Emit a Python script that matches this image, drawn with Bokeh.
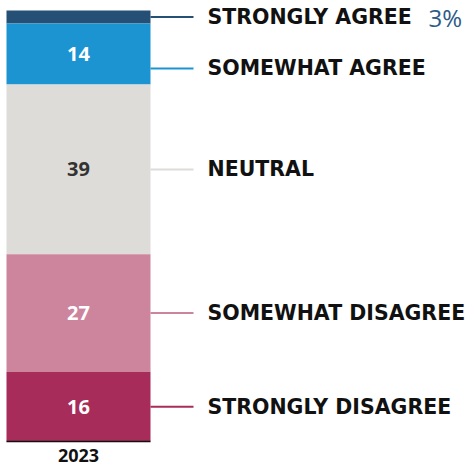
from bokeh.plotting import figure
from bokeh.models import Range1d, ColumnDataSource
from bokeh.core.properties import value
from bokeh.embed import file_html
from bokeh.resources import INLINE

year = "2023"
categories = ["STRONGLY AGREE", "SOMEWHAT AGREE", "NEUTRAL", "SOMEWHAT DISAGREE", "STRONGLY DISAGREE"]
values = [3, 14, 39, 27, 16]
colors = ["#264f75", "#1c94d2", "#dddcd8", "#cd849d", "#a82c5a"]
value_text_colors = ["#ffffff", "#ffffff", "#333333", "#ffffff", "#ffffff"]
show_value_in_bar = [False, True, True, True, True]

W, H = 466, 466
px_per_unit = 4.3535
total = sum(values)
top_pad = 10 / px_per_unit
bottom_pad = (H - 10 - total * px_per_unit) / px_per_unit

FONT = "Open Sans"
LABEL_FONT = "DejaVu Sans"

p = figure(width=W, height=H, output_backend="svg", toolbar_location=None,
           x_range=Range1d(0, W), y_range=Range1d(-bottom_pad, total + top_pad),
           min_border=0, outline_line_color=None)
p.axis.visible = False
p.grid.visible = False
p.background_fill_color = None
p.border_fill_color = "white"

bar_left, bar_right = 6, 150
line_end = 193
label_x = 207

tops, bottoms = [], []
cur = total
for v in values:
    tops.append(cur)
    bottoms.append(cur - v)
    cur -= v
centers = [(t + b) / 2 for t, b in zip(tops, bottoms)]

min_gap = 11.8
label_y = list(centers)
for i in range(1, len(label_y)):
    if label_y[i - 1] - label_y[i] < min_gap:
        label_y[i] = label_y[i - 1] - min_gap

src = ColumnDataSource(dict(top=tops, bottom=bottoms, color=colors))
p.quad(left=bar_left, right=bar_right, top="top", bottom="bottom", fill_color="color",
       line_color=None, source=src)

p.segment(x0=[bar_left], x1=[bar_right], y0=[0], y1=[0], line_color="#111111", line_width=1.5)

vx, vy, vt, vc = [], [], [], []
for i, v in enumerate(values):
    if show_value_in_bar[i]:
        vx.append((bar_left + bar_right) / 2)
        vy.append(centers[i])
        vt.append(str(v))
        vc.append(value_text_colors[i])
p.text(x=vx, y=vy, text=vt, text_color=vc, text_font=value(FONT), text_font_style="bold",
       text_font_size="20px", text_align="center", text_baseline="middle")

p.segment(x0=[bar_right] * len(values), x1=[line_end] * len(values), y0=label_y, y1=label_y,
          line_color=colors, line_width=2)

p.text(x=[label_x] * len(values), y=label_y, text=categories, text_color="#111111",
       text_font=value(LABEL_FONT), text_font_style="bold", text_font_size="20.5px",
       text_align="left", text_baseline="middle")

p.text(x=[428], y=[label_y[0]], text=[f"{values[0]}%"], text_color="#2d5a87",
       text_font=value(FONT), text_font_size="24px", text_align="left", text_baseline="middle")

p.text(x=[(bar_left + bar_right) / 2], y=[0], y_offset=[14], text=[year], text_color="#111111",
       text_font=value(FONT), text_font_style="bold", text_font_size="18px",
       text_align="center", text_baseline="middle")

open("out.html", "w").write(file_html(p, INLINE))
